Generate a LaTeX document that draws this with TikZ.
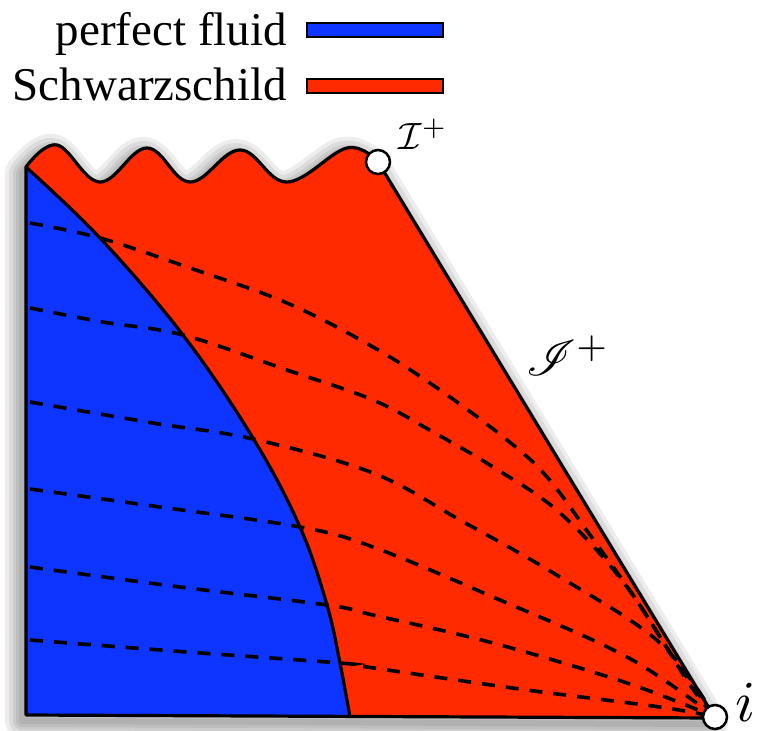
\documentclass[tikz,border=0pt]{standalone}
\usepackage{fontspec}
\setmainfont{Liberation Serif}
\usepackage{amsmath}
\usepackage{mathrsfs}
\definecolor{fluidblue}{RGB}{14,52,255}
\definecolor{schwred}{RGB}{255,42,0}
\tikzset{
  edge/.style={draw=black, line width=3.2pt, line join=round},
  nullline/.style={draw=black, line width=3.6pt, dash pattern=on 13pt off 11pt},
  dot/.style={circle, draw=black, fill=white, line width=2.5pt, minimum size=24pt, inner sep=0pt},
  legtext/.style={anchor=base east, inner sep=0pt, font=\fontsize{47}{50}\selectfont},
  legbox/.style={draw=black, line width=2.5pt},
  lab/.style={inner sep=0pt}
}
\begin{document}
\begin{tikzpicture}[x=1pt,y=-1pt]
\useasboundingbox (0,0) rectangle (766,731);
\def\outline{plot[smooth, tension=0.65] coordinates {(26,167) (57,145) (100,182) (147,148) (190,182) (240,150) (287,182) (347,148) (378,162)} -- (715,718) -- (26,715) -- cycle}
% soft shadow
\begin{scope}[shift={(-4,6)}]
\foreach \w in {34,26,18,12,6} {
  \draw[black, opacity=0.07, line width=\w pt, line join=round] \outline;
}
\end{scope}
% regions
\fill[schwred] \outline;
\fill[fluidblue] (26,167) -- plot[smooth, tension=0.6] coordinates {(26,167) (100,238) (183,335) (253,438) (300,527) (327,605) (340,663) (350,717)} -- (26,715) -- cycle;
% null lines
\draw[nullline] plot[smooth, tension=0.6] coordinates {(30,223) (100,238) (187,267) (287,303) (373,347) (440,390) (507,440) (547,477) (590,535) (635,598) (673,657) (715,717)};
\draw[nullline] plot[smooth, tension=0.6] coordinates {(30,308) (103,322) (183,335) (287,370) (373,400) (433,432) (493,467) (560,513) (627,587) (690,685) (715,717)};
\draw[nullline] plot[smooth, tension=0.6] coordinates {(30,402) (153,423) (253,439) (373,473) (460,520) (560,577) (660,643) (715,717)};
\draw[nullline] plot[smooth, tension=0.6] coordinates {(30,489) (160,507) (300,527) (373,547) (493,597) (627,657) (715,717)};
\draw[nullline] plot[smooth, tension=0.6] coordinates {(30,567) (180,587) (327,605) (373,615) (493,643) (627,683) (715,717)};
\draw[nullline] plot[smooth, tension=0.6] coordinates {(30,640) (187,652) (340,663) (367,667) (527,690) (660,707) (715,717)};
% boundaries
\draw[edge] plot[smooth, tension=0.6] coordinates {(26,167) (100,238) (183,335) (253,438) (300,527) (327,605) (340,663) (350,717)};
\draw[edge] \outline;
% points
\node[dot] (iplus) at (378,162) {};
\node[dot] (izero) at (715,717) {};
% labels
\node[lab] (Iplus) at (423,134) {\scalebox{3.8}{$\mathcal{I}^+$}};
\node[lab] (scri) at (568,356) {\scalebox{5}{$\mathscr{I}^+$}};
\node[lab] (ilab) at (745,702) {\scalebox{5.8}{$i$}};
% legend
\node[legtext] (lfluid) at (287,45) {perfect fluid};
\node[legtext] (lschw) at (287,100) {Schwarzschild};
\draw[legbox, fill=fluidblue] (307,23) rectangle (443,37);
\draw[legbox, fill=schwred] (307,79) rectangle (443,93);
\end{tikzpicture}
\end{document}
